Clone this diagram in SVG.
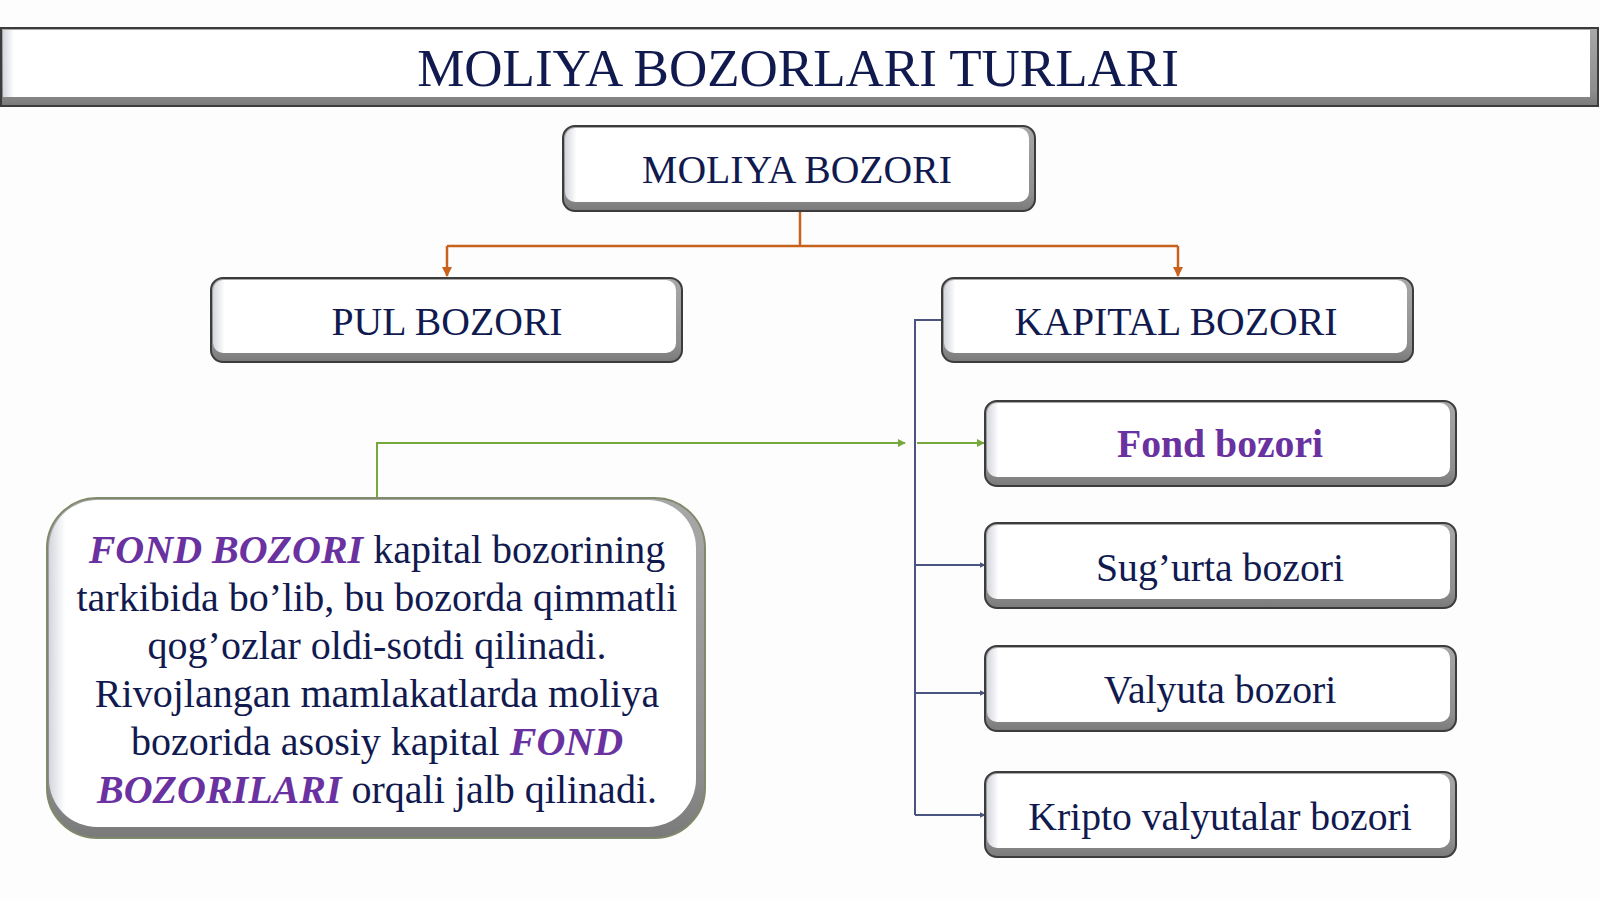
<svg xmlns="http://www.w3.org/2000/svg" width="1600" height="899" viewBox="0 0 1600 899">
<defs>
<linearGradient id="face" x1="0" y1="0" x2="1" y2="0">
<stop offset="0" stop-color="#d4d6de"/>
<stop offset="0.025" stop-color="#ffffff"/>
<stop offset="1" stop-color="#ffffff"/>
</linearGradient>
<linearGradient id="tface" gradientUnits="userSpaceOnUse" x1="3" y1="0" x2="14" y2="0">
<stop offset="0" stop-color="#d4d6de"/>
<stop offset="1" stop-color="#ffffff"/>
</linearGradient>
<linearGradient id="bevel" x1="0" y1="0" x2="0" y2="1">
<stop offset="0" stop-color="#a8a8a8"/>
<stop offset="0.8" stop-color="#8e8e8e"/>
<stop offset="1" stop-color="#7a7a7a"/>
</linearGradient>
<marker id="ao" viewBox="0 0 10 10" refX="9" refY="5" markerWidth="4" markerHeight="4" orient="auto"><path d="M0,0 L10,5 L0,10 z" fill="#c8621c"/></marker>
<marker id="ab" viewBox="0 0 10 10" refX="9" refY="5" markerWidth="3" markerHeight="3" orient="auto"><path d="M0,0 L10,5 L0,10 z" fill="#4a5480"/></marker>
<marker id="ag" viewBox="0 0 10 10" refX="9" refY="5" markerWidth="4" markerHeight="4" orient="auto"><path d="M0,0 L10,5 L0,10 z" fill="#76a83e"/></marker>
</defs>
<style>
.shell{fill:url(#bevel);stroke:#3c3c3c;stroke-width:2}
.face{fill:url(#face)}
.t{font-family:"Liberation Serif","Times New Roman",serif;fill:#111a4f;text-anchor:middle}
.n{font-size:39.7px}
.p{font-size:40px}
.em{fill:#6a32a0;font-weight:bold;font-style:italic}
.o{stroke:#c8621c;stroke-width:2.5;fill:none}
.b{stroke:#4a5480;stroke-width:2;fill:none}
.g{stroke:#76a83e;stroke-width:2;fill:none}
</style>
<rect width="1600" height="899" fill="#fdfdfd"/>

<g id="title">
<rect x="1" y="28" width="1597" height="78" class="shell"/>
<rect x="3" y="30" width="1587" height="67" fill="url(#tface)"/>
<text x="798" y="86" class="t" font-size="53">MOLIYA BOZORLARI TURLARI</text>
</g>

<g id="connectors">
<path class="o" d="M800,212 V246"/>
<path class="o" d="M447,246 H1178"/>
<path class="o" d="M447,246 V276" marker-end="url(#ao)"/>
<path class="o" d="M1178,246 V276" marker-end="url(#ao)"/>
<path class="b" d="M942,320 H915 V815"/>
<path class="b" d="M915,565 H985" marker-end="url(#ab)"/>
<path class="b" d="M915,693 H985" marker-end="url(#ab)"/>
<path class="b" d="M915,815 H985" marker-end="url(#ab)"/>
<path class="g" d="M377,497 V443 H905" marker-end="url(#ag)"/>
<path class="g" d="M917,443 H984" marker-end="url(#ag)"/>
</g>

<g id="n-moliya">
<rect x="563" y="126" width="472" height="85" rx="12" class="shell"/>
<rect x="565" y="128" width="464" height="74" rx="10" class="face"/>
<text x="797" y="183" class="t n">MOLIYA BOZORI</text>
</g>

<g id="n-pul">
<rect x="211" y="278" width="471" height="84" rx="12" class="shell"/>
<rect x="213" y="280" width="463" height="73" rx="10" class="face"/>
<text x="447" y="335" class="t n">PUL BOZORI</text>
</g>

<g id="n-kapital">
<rect x="942" y="278" width="471" height="84" rx="12" class="shell"/>
<rect x="944" y="280" width="463" height="73" rx="10" class="face"/>
<text x="1176" y="335" class="t n">KAPITAL BOZORI</text>
</g>

<g id="n-fond">
<rect x="985" y="401" width="471" height="85" rx="12" class="shell"/>
<rect x="987" y="403" width="463" height="74" rx="10" class="face"/>
<text x="1220" y="457" class="t n" style="fill:#6a32a0;font-weight:bold">Fond bozori</text>
</g>

<g id="n-sugurta">
<rect x="985" y="523" width="471" height="85" rx="12" class="shell"/>
<rect x="987" y="525" width="463" height="74" rx="10" class="face"/>
<text x="1220" y="581" class="t n">Sug’urta bozori</text>
</g>

<g id="n-valyuta">
<rect x="985" y="646" width="471" height="85" rx="12" class="shell"/>
<rect x="987" y="648" width="463" height="74" rx="10" class="face"/>
<text x="1220" y="703" class="t n">Valyuta bozori</text>
</g>

<g id="n-kripto">
<rect x="985" y="772" width="471" height="85" rx="12" class="shell"/>
<rect x="987" y="774" width="463" height="74" rx="10" class="face"/>
<text x="1220" y="830" class="t n">Kripto valyutalar bozori</text>
</g>

<g id="n-info">
<rect x="47" y="498" width="658" height="340" rx="50" class="shell" style="stroke:#7f8a6a"/>
<rect x="49" y="500" width="647" height="327" rx="48" class="face"/>
<text x="377" y="563" class="t p"><tspan class="em">FOND BOZORI</tspan> kapital bozorining</text>
<text x="377" y="611" class="t p">tarkibida bo’lib, bu bozorda qimmatli</text>
<text x="377" y="659" class="t p">qog’ozlar oldi-sotdi qilinadi.</text>
<text x="377" y="707" class="t p">Rivojlangan mamlakatlarda moliya</text>
<text x="377" y="755" class="t p">bozorida asosiy kapital <tspan class="em">FOND</tspan></text>
<text x="377" y="803" class="t p"><tspan class="em">BOZORILARI</tspan> orqali jalb qilinadi.</text>
</g>
</svg>
